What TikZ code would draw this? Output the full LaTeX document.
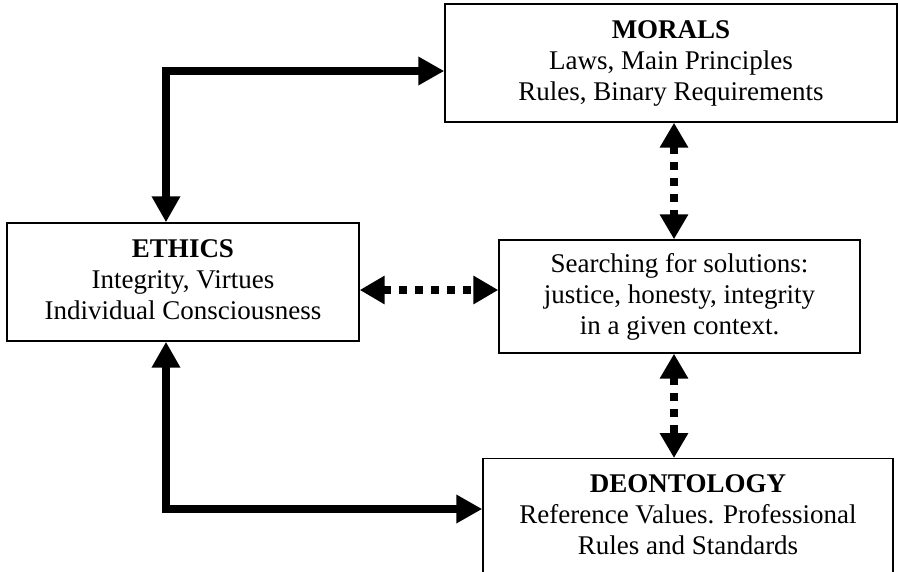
\documentclass[tikz,border=0pt]{standalone}
\usepackage{fontspec}
\setmainfont{Liberation Serif}
\usetikzlibrary{arrows.meta}
\begin{document}
\begin{tikzpicture}[x=1pt,y=-1pt,
  box/.style={draw=black, line width=1.4pt, inner sep=0pt, align=center,
    font=\fontsize{27}{31}\selectfont},
  solidarrow/.style={line width=8pt, {Triangle[width=27pt,length=26pt]}-{Triangle[width=27pt,length=26pt]}},
  dotarrow/.style={line width=8pt, dash pattern=on 8pt off 8pt,
    {Triangle[width=27pt,length=25pt]}-{Triangle[width=27pt,length=25pt]}}]
\useasboundingbox (0,0) rectangle (898,571);
\node[box, minimum width=452pt, minimum height=118pt] (morals) at (671,63)
  {\textbf{MORALS}\\Laws, Main Principles\\Rules, Binary Requirements};
\node[box, minimum width=352pt, minimum height=118pt, text depth=4pt] (ethics) at (183,282)
  {\textbf{ETHICS}\\Integrity, Virtues\\Individual Consciousness};
\node[box, minimum width=361pt, minimum height=113pt] (mid) at (679.5,296.5)
  {Searching for solutions:\\justice, honesty, integrity\\in a given context.};
\node[box, minimum width=410pt, minimum height=118pt, anchor=north, text depth=6pt] (deon) at (688,458)
  {\textbf{DEONTOLOGY}\\Reference Values. Professional\\Rules and Standards};
\coordinate (ct) at (166,71);
\coordinate (cb) at (166,509);
\coordinate (h) at (0,290);
\coordinate (v) at (674,0);
\draw[solidarrow] (ethics.north -| ct) |- (morals.west |- ct);
\draw[solidarrow] (ethics.south -| cb) |- (deon.west |- cb);
\draw[dotarrow] (ethics.east |- h) -- (mid.west |- h);
\draw[dotarrow] (morals.south -| v) -- (mid.north -| v);
\draw[dotarrow] (mid.south -| v) -- (deon.north -| v);
\end{tikzpicture}
\end{document}
